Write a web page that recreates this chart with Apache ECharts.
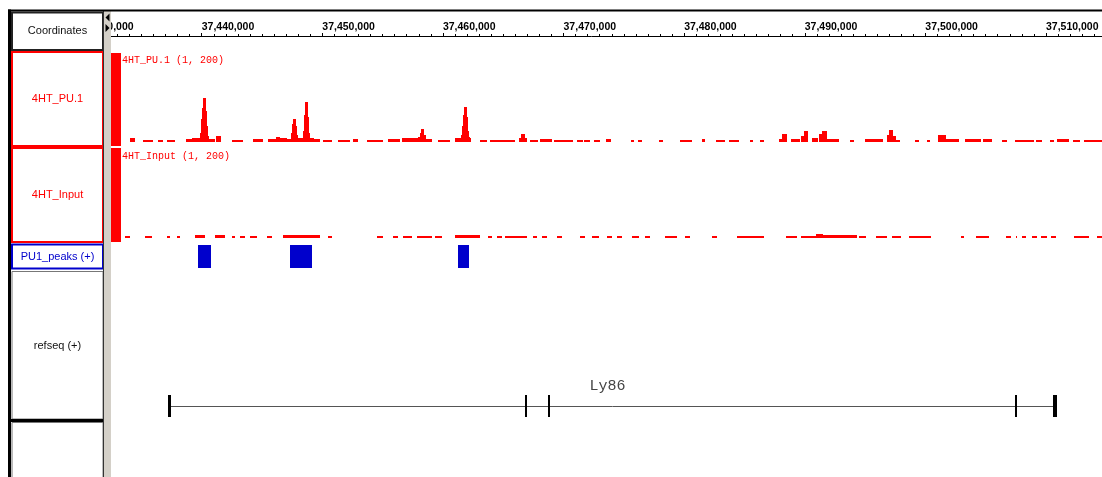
<!DOCTYPE html>
<html><head><meta charset="utf-8">
<script src="https://cdn.jsdelivr.net/npm/echarts@6/dist/echarts.min.js"></script>
<style>html,body{margin:0;padding:0;background:#fff}#c{width:1102px;height:477px}</style>
</head><body><div id="c"></div><script>
// ---- region / ruler ----
const ORIGIN_BP = 37430000;      // left tick of the ruler
const VIEW_END_BP = 37514645;    // right edge of the view
const TICK_STEP_BP = 10000;
const MINOR_SPLIT = 10;

// ---- track names ----
const trackNames = ['Coordinates', '4HT_PU.1', '4HT_Input', 'PU1_peaks (+)', 'refseq (+)'];
const dataRange = [1, 200];

// ---- signal tracks: [startKb, endKb, value] (kb offset from ORIGIN_BP) ----
const pu1Overflow = [[2.47, 3.30]];
const pu1Segments = [
 [4.05,4.46,9],
 [5.15,5.98,4],[6.37,6.79,4],[7.12,7.78,4],
 [8.70,9.20,5],[9.20,9.86,7],[9.86,9.94,20],[9.94,10.02,50],[10.02,10.11,75],[10.11,10.36,98],
 [10.36,10.44,70],[10.44,10.53,35],[10.53,10.61,12],[10.61,11.10,6],[11.19,11.58,13],
 [12.49,13.45,4],[14.23,15.06,5],
 [15.53,16.17,6],[16.17,16.50,10],[16.50,17.05,7],
 [17.05,17.40,6],[17.40,17.49,20],[17.49,17.57,40],[17.57,17.82,51],[17.82,17.90,35],[17.90,17.99,15],
 [17.99,18.37,8],[18.37,18.46,25],[18.46,18.54,60],[18.54,18.79,89],[18.79,18.87,55],[18.87,18.95,20],
 [18.95,19.32,8],[19.32,19.82,5],
 [20.09,20.79,4],[21.31,22.31,4],[22.56,22.97,5],[23.69,25.07,4],
 [25.46,26.46,6],[26.60,27.93,7],
 [27.93,28.06,10],[28.06,28.18,20],[28.18,28.43,28],[28.43,28.56,14],[28.56,29.09,6],
 [29.61,30.61,4],
 [31.02,31.50,7],[31.50,31.58,15],[31.58,31.66,35],[31.66,31.75,60],[31.75,32.00,78],
 [32.00,32.08,55],[32.08,32.16,25],[32.16,32.24,10],[32.24,32.32,7],
 [33.10,33.65,4],[33.93,35.59,4],[35.59,36.00,4],
 [36.33,36.50,9],[36.50,36.83,18],[36.83,37.00,9],
 [37.24,37.91,4],[38.07,39.07,5],[39.24,40.81,4],
 [41.15,41.60,4],[41.73,42.22,4],[42.56,43.05,4],[43.52,43.97,5],
 [45.59,45.88,4],[46.21,46.54,4],[47.95,48.28,4],[49.69,50.69,4],
 [51.48,51.77,6],[52.60,53.39,4],[53.71,54.51,4],[55.46,55.75,4],[56.25,56.58,4],
 [57.83,58.08,6],[58.08,58.49,18],[58.82,59.57,5],
 [59.73,59.90,12],[59.90,60.23,24],[60.56,61.06,7],
 [61.20,61.40,18],[61.40,61.81,24],[61.81,62.80,5],
 [63.72,64.05,4],[65.02,66.46,5],
 [66.79,66.96,14],[66.96,67.29,27],[67.29,67.54,12],[67.54,67.87,4],
 [69.16,69.48,4],[70.11,70.36,4],
 [71.07,71.68,15],[71.68,72.82,6],[73.30,74.59,6],[74.76,75.50,5],
 [76.33,76.80,4],[77.44,79.04,4],[79.20,79.65,4],[80.32,80.63,4],
 [80.95,81.89,5],[82.22,82.86,4],[83.18,84.71,4]
];
const inputOverflow = [[2.47, 3.30]];
const inputSegments = [
 [3.63,4.05,4],[5.29,5.85,4],[7.10,7.37,4],[7.93,8.20,4],[9.44,10.27,5],[11.10,11.93,5],
 [12.49,12.76,4],[13.18,13.59,4],[14.01,14.56,4],[15.39,15.81,4],[16.77,19.82,5],
 [20.48,20.79,4],[24.52,25.07,4],[25.88,26.29,4],[26.71,27.43,4],[27.84,29.09,4],
 [29.36,29.92,4],[31.02,33.10,5],[33.76,34.07,4],[34.48,34.90,4],[35.17,36.97,4],
 [37.49,37.80,4],[38.22,38.63,4],[39.46,39.88,4],[41.39,41.81,4],[42.37,42.91,4],
 [43.61,44.02,4],[44.44,44.86,4],[45.68,46.23,4],[46.79,47.20,4],[48.45,49.42,4],
 [50.11,50.52,4],[52.32,52.74,4],[54.40,56.61,4],[58.41,59.38,4],
 [59.65,60.90,4],[60.90,61.48,8],[61.48,64.36,5],
 [64.49,65.05,4],[65.88,66.85,4],[67.26,67.95,4],[68.64,70.44,4],[72.93,73.20,4],
 [74.17,75.28,4],[76.66,77.08,4],[77.49,77.63,4],[78.05,78.32,4],[78.88,79.29,4],
 [79.57,80.12,4],[80.40,80.81,4],[82.31,83.55,4],[84.27,84.71,4]
];

// ---- peaks (kb offsets) ----
const peakRegions = [[9.67,10.77],[17.35,19.18],[31.21,32.18]];

// ---- gene ----
const geneName = 'Ly86';
const geneSpan = [7.23, 80.88];
const geneExons = [[7.23,7.42],[36.83,37.00],[38.68,38.85],[77.46,77.56],[80.56,80.88]];

// ---------------------------------------------------------------
const toBp = k => ORIGIN_BP + k * 1000;
const segData = arr => arr.map(([a, b, v]) => [toBp(a), toBp(b), v]);
const spanData = arr => arr.map(([a, b]) => [toBp(a), toBp(b)]);
const fmt = v => String(Math.round(v)).replace(/\B(?=(\d{3})+(?!\d))/g, ',');

const Y_MIN = -10, Y_MAX = dataRange[1];
const RED = '#ff0000', BLUE = '#0000cc';

function barRender(color) {
  return function (params, api) {
    const v = Math.min(api.value(2), Y_MAX);
    const p0 = api.coord([api.value(0), 0]);
    const p1 = api.coord([api.value(1), v]);
    const x = Math.round(p0[0]);
    const w = Math.max(1, Math.round(p1[0]) - x);
    const base = Math.round(p0[1]);
    const top = Math.min(base - 1, Math.round(p1[1]));
    return { type: 'rect', shape: { x: x, y: top, width: w, height: base - top }, style: { fill: color } };
  };
}
function fullRender(color, lo, hi) {
  return function (params, api) {
    const p0 = api.coord([api.value(0), lo]);
    const p1 = api.coord([api.value(1), hi]);
    const x = Math.round(p0[0]);
    return { type: 'rect', shape: { x: x, y: p1[1], width: Math.max(1, Math.round(p1[0]) - x), height: p0[1] - p1[1] }, style: { fill: color } };
  };
}
function geneRender(params, api) {
  const a = api.coord([api.value(0), 0]);
  const b = api.coord([api.value(1), 0]);
  const y = Math.round(a[1]) + 0.5;
  return { type: 'group', children: [
    { type: 'line', shape: { x1: a[0], y1: y, x2: b[0], y2: y }, style: { stroke: '#555', lineWidth: 1 } },
    { type: 'text', style: { text: geneName, x: (a[0] + b[0]) / 2 - 5, y: y - 20, align: 'center', verticalAlign: 'middle',
      font: '15px "Liberation Mono", "Courier New", monospace', fill: '#444' } }
  ] };
}

const L = 81.09, W = 1020.91;
const grids = [
  { left: L, width: W, top: 33, height: 3 },     // ruler
  { left: L, width: W, top: 53, height: 93 },    // PU.1
  { left: L, width: W, top: 148, height: 94 },   // Input
  { left: L, width: W, top: 245, height: 23 },   // peaks
  { left: L, width: W, top: 395, height: 22 }    // gene
];
const baseX = { type: 'value', min: ORIGIN_BP, max: VIEW_END_BP, interval: TICK_STEP_BP };
const xAxes = [
  Object.assign({}, baseX, { gridIndex: 0, position: 'top',
    axisLine: { show: true, lineStyle: { color: '#000', width: 1 } },
    axisTick: { show: true, inside: false, length: 2, lineStyle: { color: '#000', width: 1 } },
    minorTick: { show: true, splitNumber: MINOR_SPLIT, length: 2, lineStyle: { color: '#000', width: 1 } },
    splitLine: { show: false },
    axisLabel: { show: true, align: 'left', margin: 0, showMaxLabel: false, formatter: fmt,
      fontFamily: '"Liberation Sans", Arial, sans-serif', fontWeight: 'bold', fontSize: 10.5, color: '#000' } }),
  Object.assign({}, baseX, { gridIndex: 0, position: 'bottom',
    axisLine: { show: false }, axisTick: { show: true, inside: true, length: 3, lineStyle: { color: '#000', width: 1 } },
    axisLabel: { show: false }, splitLine: { show: false } }),
  Object.assign({}, baseX, { gridIndex: 1, show: false }),
  Object.assign({}, baseX, { gridIndex: 2, show: false }),
  Object.assign({}, baseX, { gridIndex: 3, show: false }),
  Object.assign({}, baseX, { gridIndex: 4, show: false })
];
const yAxes = [
  { gridIndex: 0, type: 'value', show: false, min: 0, max: 1 },
  { gridIndex: 1, type: 'value', show: false, min: Y_MIN, max: Y_MAX },
  { gridIndex: 2, type: 'value', show: false, min: Y_MIN, max: Y_MAX },
  { gridIndex: 3, type: 'value', show: false, min: 0, max: 1 },
  { gridIndex: 4, type: 'value', show: false, min: -1, max: 1 }
];

const series = [
  { type: 'custom', name: trackNames[1], xAxisIndex: 2, yAxisIndex: 1, renderItem: barRender(RED), encode: { x: [0, 1], y: 2 }, data: segData(pu1Segments), silent: true },
  { type: 'custom', xAxisIndex: 2, yAxisIndex: 1, renderItem: fullRender(RED, Y_MIN, Y_MAX), encode: { x: [0, 1] }, data: spanData(pu1Overflow), silent: true },
  { type: 'custom', name: trackNames[2], xAxisIndex: 3, yAxisIndex: 2, renderItem: barRender(RED), encode: { x: [0, 1], y: 2 }, data: segData(inputSegments), silent: true },
  { type: 'custom', xAxisIndex: 3, yAxisIndex: 2, renderItem: fullRender(RED, Y_MIN, Y_MAX), encode: { x: [0, 1] }, data: spanData(inputOverflow), silent: true },
  { type: 'custom', name: trackNames[3], xAxisIndex: 4, yAxisIndex: 3, renderItem: fullRender(BLUE, 0, 1), encode: { x: [0, 1] }, data: spanData(peakRegions), silent: true },
  { type: 'custom', name: trackNames[4], xAxisIndex: 5, yAxisIndex: 4, renderItem: geneRender, encode: { x: [0, 1] }, data: spanData([geneSpan]), silent: true },
  { type: 'custom', xAxisIndex: 5, yAxisIndex: 4, renderItem: fullRender('#000', -1, 1), encode: { x: [0, 1] }, data: spanData(geneExons), silent: true }
];

// ---- name panel (frame graphics) ----
const SANS = '"Liberation Sans", Arial, sans-serif';
const boxes = [
  { y: 12.5, h: 37.5, stroke: '#222', lw: 2, text: trackNames[0], color: '#111', ty: 31 },
  { y: 52, h: 94, stroke: RED, lw: 2, text: trackNames[1], color: RED, ty: 99 },
  { y: 148, h: 94, stroke: RED, lw: 2, text: trackNames[2], color: RED, ty: 195 },
  { y: 244.5, h: 24, stroke: BLUE, lw: 2, text: trackNames[3], color: BLUE, ty: 256.5 },
  { y: 271.5, h: 147.5, stroke: '#777', lw: 1, text: trackNames[4], color: '#111', ty: 345.5 },
  { y: 422.5, h: 60, stroke: '#777', lw: 1, text: '', color: '#111', ty: 450 }
];
const graphic = [
  { type: 'rect', z: 100, shape: { x: 0, y: 0, width: 104, height: 477 }, style: { fill: '#fff' } },
  { type: 'rect', z: 100, shape: { x: 104, y: 11, width: 7, height: 466 }, style: { fill: '#d4d0c8' } }
];
boxes.forEach(b => {
  graphic.push({ type: 'rect', z: 101, shape: { x: 12, y: b.y, width: 91, height: b.h }, style: { fill: '#fff', stroke: b.stroke, lineWidth: b.lw } });
  if (b.text) graphic.push({ type: 'text', z: 102, style: { text: b.text, x: 57.5, y: b.ty, align: 'center', verticalAlign: 'middle', font: '11px ' + SANS, fill: b.color } });
});
graphic.push(
  { type: 'rect', z: 103, shape: { x: 10, y: 419, width: 94, height: 3 }, style: { fill: '#000' } },
  { type: 'rect', z: 103, shape: { x: 103, y: 11, width: 1, height: 466 }, style: { fill: '#333' } },
  { type: 'rect', z: 103, shape: { x: 8, y: 9.5, width: 1094, height: 2 }, style: { fill: '#000' } },
  { type: 'rect', z: 103, shape: { x: 8, y: 9.5, width: 3, height: 468 }, style: { fill: '#000' } },
  { type: 'polygon', z: 103, shape: { points: [[105.5, 17.5], [109.5, 13.5], [109.5, 21.5]] }, style: { fill: '#000' } },
  { type: 'polygon', z: 103, shape: { points: [[105.5, 24], [109.5, 28], [105.5, 32]] }, style: { fill: '#000' } },
  { type: 'text', z: 103, style: { text: trackNames[1] + ' (' + dataRange.join(', ') + ')', x: 122, y: 60.5, verticalAlign: 'middle', font: '10px "Liberation Mono", "Courier New", monospace', fill: RED } },
  { type: 'text', z: 103, style: { text: trackNames[2] + ' (' + dataRange.join(', ') + ')', x: 122, y: 156, verticalAlign: 'middle', font: '10px "Liberation Mono", "Courier New", monospace', fill: RED } }
);

const chart = echarts.init(document.getElementById('c'), null, { renderer: 'canvas' });
chart.setOption({
  animation: false,
  backgroundColor: '#fff',
  grid: grids, xAxis: xAxes, yAxis: yAxes, series: series, graphic: graphic
});
</script></body></html>
